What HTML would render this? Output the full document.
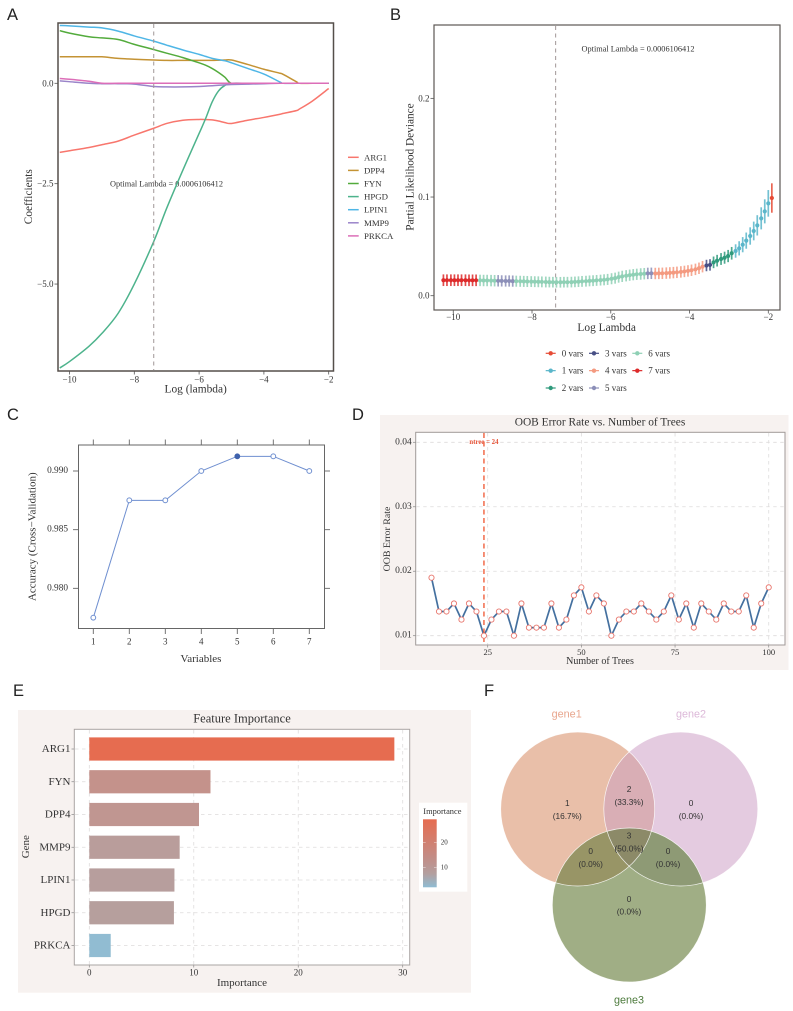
<!DOCTYPE html>
<html>
<head>
<meta charset="utf-8">
<title>Multi-panel gene feature selection figure</title>
<style>
html,body{margin:0;padding:0;background:#fff;}
svg{display:block;}
text{font-family:"Liberation Serif",serif;fill:#333;dominant-baseline:central;}
.letter{font-family:"Liberation Sans",sans-serif;font-size:16.5px;fill:#222;dominant-baseline:auto;}
.sans{font-family:"Liberation Sans",sans-serif;}
</style>
</head>
<body>
<svg id="fig" xmlns="http://www.w3.org/2000/svg" width="793" height="1011" viewBox="0 0 793 1011">
<rect x="0" y="0" width="793" height="1011" fill="#fff"/>

<text class="letter" x="7" y="20">A</text>
<text class="letter" x="390" y="20">B</text>
<text class="letter" x="7" y="420">C</text>
<text class="letter" x="352" y="420">D</text>
<text class="letter" x="13" y="696">E</text>
<text class="letter" x="484" y="696">F</text>

<g id="panelA">
  <rect x="58" y="23" width="275.5" height="348" fill="#fff" stroke="#554f4a" stroke-width="1.5"/>
  <text x="195.7" y="389.5" font-size="11.4" text-anchor="middle">Log (lambda)</text>
  <text x="29" y="196.7" font-size="11.3" text-anchor="middle" transform="rotate(-90 29 196.7)">Coefficients</text>
  <text x="166.5" y="184" font-size="8.3" text-anchor="middle">Optimal Lambda = 0.0006106412</text>
</g>

<g id="panelB">
  <rect x="434" y="25" width="346" height="285" fill="#fff" stroke="#5c5853" stroke-width="1.2"/>
  <text x="606.7" y="328" font-size="11.4" text-anchor="middle">Log Lambda</text>
  <text x="410.7" y="167" font-size="11.3" text-anchor="middle" transform="rotate(-90 410.7 167)">Partial Likelihood Deviance</text>
  <text x="638" y="49" font-size="8.3" text-anchor="middle">Optimal Lambda = 0.0006106412</text>
</g>

<g id="panelC">
  <rect x="78.5" y="445" width="246" height="183.5" fill="#fff" stroke="#666" stroke-width="1"/>
  <text x="201" y="659" font-size="11" text-anchor="middle">Variables</text>
  <text x="32.7" y="536.7" font-size="11" text-anchor="middle" transform="rotate(-90 32.7 536.7)">Accuracy (Cross−Validation)</text>
</g>

<g id="panelD">
  <rect x="380" y="415" width="408.5" height="255" fill="#f7f2f0"/>
  <rect x="415.7" y="432.3" width="369.3" height="212.7" fill="#fff" stroke="#a09a98" stroke-width="1"/>
  <text x="600" y="422.7" font-size="11.4" text-anchor="middle">OOB Error Rate vs. Number of Trees</text>
  <text x="600" y="661.7" font-size="10" text-anchor="middle">Number of Trees</text>
  <text x="387.7" y="539" font-size="9.9" text-anchor="middle" transform="rotate(-90 387.7 539)">OOB Error Rate</text>
</g>

<g id="panelE">
  <rect x="18" y="710" width="453" height="282.7" fill="#f7f2f0"/>
  <rect x="74.3" y="729.3" width="335.4" height="235.7" fill="#fff" stroke="#aaa5a3" stroke-width="1"/>
  <text x="242" y="718.5" font-size="12.5" text-anchor="middle">Feature Importance</text>
  <text x="242" y="983" font-size="11" text-anchor="middle">Importance</text>
  <text x="26" y="846.7" font-size="11" text-anchor="middle" transform="rotate(-90 26 846.7)">Gene</text>
  <rect x="419" y="802.7" width="48.3" height="89" fill="#fff"/>
  <text x="423.3" y="811.3" font-size="8.4">Importance</text>
  <defs>
    <linearGradient id="impGrad" x1="0" y1="0" x2="0" y2="1">
      <stop offset="0" stop-color="#e66c50"/>
      <stop offset="0.6" stop-color="#c08f8a"/>
      <stop offset="0.8" stop-color="#b39f9f"/>
      <stop offset="1" stop-color="#8fbcd3"/>
    </linearGradient>
  </defs>
  <rect x="423" y="819.3" width="13.7" height="68" fill="url(#impGrad)"/>
</g>

<g id="panelF">
  <defs>
    <clipPath id="clipG1"><circle cx="577.7" cy="809" r="77"/></clipPath>
    <clipPath id="clipG2"><circle cx="680.8" cy="809" r="77"/></clipPath>
    <clipPath id="clipG3"><circle cx="629.3" cy="905" r="77"/></clipPath>
  </defs>
  <circle cx="577.7" cy="809" r="77" fill="#e9bfa9"/>
  <circle cx="680.8" cy="809" r="77" fill="#e4cbe0"/>
  <circle cx="629.3" cy="905" r="77" fill="#a0ae85"/>
  <g clip-path="url(#clipG1)"><circle cx="680.8" cy="809" r="77" fill="#d9aeb5"/></g>
  <g clip-path="url(#clipG1)"><circle cx="629.3" cy="905" r="77" fill="#989566"/></g>
  <g clip-path="url(#clipG2)"><circle cx="629.3" cy="905" r="77" fill="#8e9a75"/></g>
  <g clip-path="url(#clipG1)"><g clip-path="url(#clipG2)"><circle cx="629.3" cy="905" r="77" fill="#8c8a68"/></g></g>
  <circle cx="577.7" cy="809" r="77" fill="none" stroke="#fff" stroke-width="0.7" stroke-opacity="0.85"/>
  <circle cx="680.8" cy="809" r="77" fill="none" stroke="#fff" stroke-width="0.7" stroke-opacity="0.85"/>
  <circle cx="629.3" cy="905" r="77" fill="none" stroke="#fff" stroke-width="0.7" stroke-opacity="0.85"/>
  <text class="sans" x="566.7" y="714.5" font-size="10.8" text-anchor="middle" style="fill:#e8a58c">gene1</text>
  <text class="sans" x="691" y="714.5" font-size="10.8" text-anchor="middle" style="fill:#dcb8d8">gene2</text>
  <text class="sans" x="629" y="1000.7" font-size="10.8" text-anchor="middle" style="fill:#4c7a3c">gene3</text>
  <g class="venn-counts" font-size="8.3" text-anchor="middle">
    <text class="sans" x="567.3" y="803">1</text>
    <text class="sans" x="567.3" y="816">(16.7%)</text>
    <text class="sans" x="629" y="789">2</text>
    <text class="sans" x="629" y="802">(33.3%)</text>
    <text class="sans" x="691" y="803">0</text>
    <text class="sans" x="691" y="816">(0.0%)</text>
    <text class="sans" x="629" y="835.3">3</text>
    <text class="sans" x="629" y="848.3">(50.0%)</text>
    <text class="sans" x="590.7" y="851">0</text>
    <text class="sans" x="590.7" y="864">(0.0%)</text>
    <text class="sans" x="668" y="851">0</text>
    <text class="sans" x="668" y="864">(0.0%)</text>
    <text class="sans" x="629" y="899">0</text>
    <text class="sans" x="629" y="911.7">(0.0%)</text>
  </g>
</g>
</svg>

<script>
/* ---------- Panel A data ---------- */
const lassoLambda = [-10.3,-10,-9.4,-9,-8.5,-8,-7.4,-7,-6.5,-6,-5.8,-5.6,-5.4,-5.2,-5,-4.5,-4,-3.5,-3.4,-3,-2.9,-2.5,-2];
const lassoArg1  = [-1.72,-1.68,-1.6,-1.53,-1.44,-1.29,-1.12,-1,-0.92,-0.9,-0.905,-0.91,-0.94,-0.98,-1,-0.92,-0.85,-0.77,-0.75,-0.68,-0.64,-0.44,-0.13];
const lassoDpp4  = [0.66,0.66,0.66,0.66,0.62,0.6,0.58,0.57,0.57,0.57,0.57,0.57,0.575,0.58,0.58,0.47,0.35,0.25,0.22,0.04,0,0,0];
const lassoFyn   = [1.31,1.25,1.16,1.13,1.09,0.97,0.84,0.75,0.64,0.51,0.45,0.37,0.27,0.15,0,0,0,0,0,0,0,0,0];
const lassoHpgd  = [-7.09,-6.93,-6.55,-6.23,-5.73,-5,-3.94,-3.11,-2.16,-1.25,-0.88,-0.47,-0.19,-0.05,0,0,0,0,0,0,0,0,0];
const lassoLpin1 = [1.44,1.43,1.4,1.38,1.3,1.18,1.05,0.95,0.83,0.72,0.67,0.62,0.59,0.56,0.51,0.37,0.23,0.03,0,0,0,0,0];
const lassoMmp9  = [0.06,0.04,0,-0.01,-0.01,-0.02,-0.08,-0.09,-0.09,-0.08,-0.07,-0.06,-0.05,-0.04,-0.03,-0.02,-0.01,0,0,0,0,0,0];
const lassoPrkca = [0.12,0.1,0.05,0,0,0,0,0,0,0,0,0,0,0,0,0,0,0,0,0,0,0,0];
const lassoGenes = ['ARG1','DPP4','FYN','HPGD','LPIN1','MMP9','PRKCA'];
const lassoXTicks = [-10,-8,-6,-4,-2];
const lassoYTicks = [0,-2.5,-5];
const optimalLogLambda = -7.4;

/* ---------- Panel B data ---------- */
const devLambda = [-10.25,-10.16,-10.06,-9.97,-9.88,-9.79,-9.69,-9.60,-9.51,-9.42,-9.32,-9.23,-9.14,-9.04,-8.95,-8.86,-8.77,-8.67,-8.58,-8.49,-8.40,-8.30,-8.21,-8.12,-8.02,-7.93,-7.84,-7.75,-7.65,-7.56,-7.47,-7.38,-7.28,-7.19,-7.10,-7.00,-6.91,-6.82,-6.73,-6.63,-6.54,-6.45,-6.36,-6.26,-6.17,-6.08,-5.98,-5.89,-5.80,-5.71,-5.61,-5.52,-5.43,-5.34,-5.24,-5.15,-5.06,-4.97,-4.87,-4.78,-4.69,-4.59,-4.50,-4.41,-4.32,-4.22,-4.13,-4.04,-3.95,-3.85,-3.76,-3.67,-3.57,-3.48,-3.39,-3.30,-3.20,-3.11,-3.02,-2.93,-2.83,-2.74,-2.65,-2.56,-2.46,-2.37,-2.28,-2.18,-2.09,-2.00,-1.91];
const devMean = [0.0157,0.0157,0.0157,0.0157,0.0157,0.0157,0.0157,0.0156,0.0156,0.0156,0.0155,0.0154,0.0154,0.0153,0.0152,0.0151,0.015,0.0149,0.0149,0.0148,0.0147,0.0146,0.0145,0.0144,0.0143,0.0142,0.0141,0.014,0.0139,0.0138,0.0137,0.0136,0.0136,0.0137,0.0137,0.0138,0.014,0.0142,0.0145,0.0147,0.015,0.0152,0.0155,0.0158,0.0161,0.0165,0.0172,0.0178,0.0188,0.0196,0.0202,0.0208,0.0213,0.0217,0.022,0.0223,0.0226,0.0227,0.0225,0.0226,0.0227,0.0229,0.0231,0.0234,0.0237,0.0241,0.0246,0.0251,0.0258,0.0267,0.0278,0.0294,0.0306,0.0312,0.0338,0.0355,0.0372,0.0385,0.0402,0.043,0.0453,0.048,0.0517,0.0558,0.0605,0.0656,0.0713,0.0784,0.0855,0.0936,0.099];
const devSe = [0.0059,0.0059,0.0059,0.0059,0.0059,0.0059,0.0059,0.0059,0.0059,0.0059,0.0058,0.0058,0.0058,0.0058,0.0058,0.0058,0.0057,0.0057,0.0057,0.0057,0.0056,0.0056,0.0056,0.0056,0.0055,0.0055,0.0055,0.0055,0.0055,0.0054,0.0054,0.0054,0.0054,0.0054,0.0054,0.0054,0.0054,0.0054,0.0055,0.0055,0.0055,0.0055,0.0055,0.0055,0.0056,0.0056,0.0056,0.0056,0.0056,0.0057,0.0057,0.0057,0.0057,0.0057,0.0058,0.0058,0.0058,0.0058,0.0058,0.0058,0.0058,0.0058,0.0058,0.0058,0.0058,0.0058,0.0058,0.0058,0.0058,0.0058,0.0058,0.0058,0.0058,0.0058,0.0059,0.0059,0.006,0.0061,0.0062,0.0064,0.0068,0.0072,0.0077,0.0082,0.0088,0.0095,0.0103,0.0112,0.0122,0.0135,0.0149];
const devVars = [7,7,7,7,7,7,7,7,7,7,6,6,6,6,6,5,5,5,5,5,6,6,6,6,6,6,6,6,6,6,6,6,6,6,6,6,6,6,6,6,6,6,6,6,6,6,6,6,6,6,6,6,6,6,6,6,5,5,4,4,4,4,4,4,4,4,4,4,4,4,4,4,3,3,2,2,2,2,2,2,1,1,1,1,1,1,1,1,1,1,0];
const devXTicks = [-10,-8,-6,-4,-2];
const devYTicks = [0,0.1,0.2];
const devLegendLabels = ['0 vars','1 vars','2 vars','3 vars','4 vars','5 vars','6 vars','7 vars'];

/* ---------- Panel C data ---------- */
const cvVariables = [1,2,3,4,5,6,7];
const cvAccuracy = [0.9775,0.9875,0.9875,0.99,0.99125,0.99125,0.99];
const cvBestVariable = 5;
const cvYTicks = [0.98,0.985,0.99];

/* ---------- Panel D data ---------- */
const oobTrees = [10,12,14,16,18,20,22,24,26,28,30,32,34,36,38,40,42,44,46,48,50,52,54,56,58,60,62,64,66,68,70,72,74,76,78,80,82,84,86,88,90,92,94,96,98,100];
const oobError = [0.019,0.01375,0.01375,0.015,0.0125,0.015,0.01375,0.01,0.0125,0.01375,0.01375,0.01,0.015,0.01125,0.01125,0.01125,0.015,0.01125,0.0125,0.01625,0.0175,0.01375,0.01625,0.015,0.01,0.0125,0.01375,0.01375,0.015,0.01375,0.0125,0.01375,0.01625,0.0125,0.015,0.01125,0.015,0.01375,0.0125,0.015,0.01375,0.01375,0.01625,0.01125,0.015,0.0175];
const oobBestTree = 24;
const oobXTicks = [25,50,75,100];
const oobYTicks = [0.01,0.02,0.03,0.04];

/* ---------- Panel E data ---------- */
const impGenes = ['ARG1','FYN','DPP4','MMP9','LPIN1','HPGD','PRKCA'];
const impValues = [29.2,11.6,10.5,8.65,8.15,8.1,2.05];
const impXTicks = [0,10,20,30];
const impLegendTicks = [10,20];

/* ---------- Helpers ---------- */
const NS = 'http://www.w3.org/2000/svg';
function mk(parent, tag, attrs) {
  const el = document.createElementNS(NS, tag);
  for (const k in attrs) el.setAttribute(k, attrs[k]);
  parent.appendChild(el);
  return el;
}
function label(parent, x, y, s, size, anchor) {
  const el = mk(parent, 'text', {x: x, y: y, 'font-size': size, 'text-anchor': anchor});
  el.textContent = s;
  return el;
}
function fmtMinus(v, d) { return (v < 0 ? '\u2212' : '') + Math.abs(v).toFixed(d); }
function smoothPath(p) {
  let d = 'M' + p[0][0].toFixed(2) + ' ' + p[0][1].toFixed(2);
  for (let i = 0; i < p.length - 1; i++) {
    const a = p[Math.max(i - 1, 0)], b = p[i], c = p[i + 1], e = p[Math.min(i + 2, p.length - 1)];
    const c1x = b[0] + (c[0] - a[0]) / 6, c1y = b[1] + (c[1] - a[1]) / 6;
    const c2x = c[0] - (e[0] - b[0]) / 6, c2y = c[1] - (e[1] - b[1]) / 6;
    d += 'C' + c1x.toFixed(2) + ' ' + c1y.toFixed(2) + ' ' + c2x.toFixed(2) + ' ' + c2y.toFixed(2) + ' ' + c[0].toFixed(2) + ' ' + c[1].toFixed(2);
  }
  return d;
}

/* ---------- Panel A ---------- */
(function () {
  const g = document.getElementById('panelA');
  const x = v => 328.7 + (v + 2) * 32.4;
  const y = v => 83.3 - v * 40.15;
  const seriesValues = [lassoArg1, lassoDpp4, lassoFyn, lassoHpgd, lassoLpin1, lassoMmp9, lassoPrkca];
  const colors = ['#f8766d','#c49334','#53ab3c','#4db38c','#4fb6e6','#9a84c9','#dc6eb8'];

  lassoXTicks.forEach(t => {
    const tick = mk(g, 'line', {x1: x(t), x2: x(t), y1: 371.5, y2: 374.5, stroke: '#555', 'stroke-width': 0.8});
    
    
    const tl = label(g, x(t), 379.5, fmtMinus(t, 0), 9, 'middle');
    
    
  });
  lassoYTicks.forEach(t => {
    const tick = mk(g, 'line', {x1: 54.5, x2: 57.5, y1: y(t), y2: y(t), stroke: '#555', 'stroke-width': 0.8});
    
    
    const tl = label(g, 53.5, y(t), fmtMinus(t, 1), 9, 'end');
    
    
  });

  seriesValues.forEach((vals, i) => {
    const pts = vals.map((v, j) => [x(lassoLambda[j]), y(v)]);
    const line = mk(g, 'path', {d: smoothPath(pts), fill: 'none', stroke: colors[i], 'stroke-width': 1.5, 'stroke-linejoin': 'round'});
    
    
  });

  const vline = mk(g, 'line', {x1: x(optimalLogLambda), x2: x(optimalLogLambda), y1: 24, y2: 370, stroke: '#a09696', 'stroke-width': 1, 'stroke-dasharray': '4 3.5'});
  
  

  lassoGenes.forEach((name, i) => {
    const yy = 157.3 + i * 13.1;
    const key = mk(g, 'line', {x1: 348, x2: 358.7, y1: yy, y2: yy, stroke: colors[i], 'stroke-width': 1.5});
    
    
    const t = label(g, 364, yy, name, 8.8, 'start');
    
    
  });
})();

/* ---------- Panel B ---------- */
(function () {
  const g = document.getElementById('panelB');
  const x = v => 768.3 + (v + 2) * 39.38;
  const y = v => 295.7 - v * 986.7;
  const palette = ['#E64B35','#5ab6ca','#2f9a7c','#474f85','#F49A80','#8c8fb8','#8fd0b5','#dd2a2a'];

  devXTicks.forEach(t => {
    const tick = mk(g, 'line', {x1: x(t), x2: x(t), y1: 310.5, y2: 313.5, stroke: '#555', 'stroke-width': 0.8});
    
    
    const tl = label(g, x(t), 317, fmtMinus(t, 0), 9, 'middle');
    
    
  });
  devYTicks.forEach(t => {
    const tick = mk(g, 'line', {x1: 430.5, x2: 433.5, y1: y(t), y2: y(t), stroke: '#555', 'stroke-width': 0.8});
    
    
    const tl = label(g, 429.5, y(t), t.toFixed(1), 9, 'end');
    
    
  });

  const vline = mk(g, 'line', {x1: x(optimalLogLambda), x2: x(optimalLogLambda), y1: 26, y2: 309, stroke: '#a09696', 'stroke-width': 1, 'stroke-dasharray': '4 3.5'});
  
  

  devLambda.forEach((lam, i) => {
    const c = palette[devVars[i]];
    const bar = mk(g, 'line', {x1: x(lam), x2: x(lam), y1: y(devMean[i] + devSe[i]), y2: y(devMean[i] - devSe[i]), stroke: c, 'stroke-width': 1.7, 'stroke-opacity': 0.85});
    
    
    const dot = mk(g, 'circle', {cx: x(lam), cy: y(devMean[i]), r: 2.1, fill: c});
    
    
  });

  devLegendLabels.forEach((name, i) => {
    const col = Math.floor(i / 3), row = i % 3;
    const x0 = 545.7 + col * 43.3, yy = 353.3 + row * 17.35;
    const key = mk(g, 'line', {x1: x0, x2: x0 + 10, y1: yy, y2: yy, stroke: palette[i], 'stroke-width': 1.2});
    
    
    const dot = mk(g, 'circle', {cx: x0 + 5, cy: yy, r: 2.2, fill: palette[i]});
    
    
    const t = label(g, x0 + 16, yy, name, 9, 'start');
    
    
  });
})();

/* ---------- Panel C ---------- */
(function () {
  const g = document.getElementById('panelC');
  const x = v => 93.3 + (v - 1) * 36;
  const y = v => 471 + (0.99 - v) * 11734;
  const stroke = '#6f8fd0';

  cvVariables.forEach(t => {
    const top = mk(g, 'line', {x1: x(t), x2: x(t), y1: 439.5, y2: 445, stroke: '#666', 'stroke-width': 0.9});
    
    
    const bot = mk(g, 'line', {x1: x(t), x2: x(t), y1: 628.5, y2: 634, stroke: '#666', 'stroke-width': 0.9});
    
    
    const tl = label(g, x(t), 641.7, String(t), 9, 'middle');
    
    
  });
  cvYTicks.forEach(t => {
    const l = mk(g, 'line', {x1: 73, x2: 78.5, y1: y(t), y2: y(t), stroke: '#666', 'stroke-width': 0.9});
    
    
    const r = mk(g, 'line', {x1: 324.5, x2: 330, y1: y(t), y2: y(t), stroke: '#666', 'stroke-width': 0.9});
    
    
    const tl = label(g, 68, y(t), t.toFixed(3), 9.3, 'end');
    
    
  });

  const pts = cvVariables.map((v, i) => x(v).toFixed(2) + ',' + y(cvAccuracy[i]).toFixed(2)).join(' ');
  const line = mk(g, 'polyline', {points: pts, fill: 'none', stroke: stroke, 'stroke-width': 1});
  
  

  cvVariables.forEach((v, i) => {
    const best = v === cvBestVariable;
    const dot = mk(g, 'circle', {cx: x(v), cy: y(cvAccuracy[i]), r: 2.4, fill: best ? '#3f62ad' : '#fff', stroke: best ? '#3f62ad' : stroke, 'stroke-width': 1});
    
    
  });
})();

/* ---------- Panel D ---------- */
(function () {
  const g = document.getElementById('panelD');
  const x = v => 487.7 + (v - 25) * 3.747;
  const y = v => 635.7 - (v - 0.01) * 6447;
  const grid = '#dedcdc';

  oobYTicks.forEach(t => {
    const gl = mk(g, 'line', {x1: 416.2, x2: 784.5, y1: y(t), y2: y(t), stroke: grid, 'stroke-width': 0.8, 'stroke-dasharray': '3.5 3.5'});
    
    
    const tick = mk(g, 'line', {x1: 413, x2: 415.5, y1: y(t), y2: y(t), stroke: '#888', 'stroke-width': 0.7});
    
    
    const tl = label(g, 411.7, y(t), t.toFixed(2), 9.5, 'end');
    
    
  });
  oobXTicks.forEach(t => {
    const gl = mk(g, 'line', {x1: x(t), x2: x(t), y1: 433, y2: 644.5, stroke: grid, 'stroke-width': 0.8, 'stroke-dasharray': '3.5 3.5'});
    
    
    const tick = mk(g, 'line', {x1: x(t), x2: x(t), y1: 645.3, y2: 647.5, stroke: '#888', 'stroke-width': 0.7});
    
    
    const tl = label(g, x(t), 651.8, String(t), 8.5, 'middle');
    
    
  });

  const pts = oobTrees.map((v, i) => x(v).toFixed(2) + ',' + y(oobError[i]).toFixed(2)).join(' ');
  const line = mk(g, 'polyline', {points: pts, fill: 'none', stroke: '#44709f', 'stroke-width': 1.7, 'stroke-linejoin': 'round'});
  
  

  const best = mk(g, 'line', {x1: x(oobBestTree), x2: x(oobBestTree), y1: 433, y2: 644.5, stroke: '#f0532e', 'stroke-width': 1.3, 'stroke-dasharray': '5 3.5'});
  
  

  const bestLabel = label(g, x(oobBestTree), 442.7, 'ntree = ' + oobBestTree, 6.8, 'middle');
  bestLabel.setAttribute('style', 'fill:#e8553a;font-weight:bold');
  
  

  oobTrees.forEach((v, i) => {
    const dot = mk(g, 'circle', {cx: x(v), cy: y(oobError[i]), r: 2.6, fill: '#fff', stroke: '#e8766d', 'stroke-width': 0.9});
    
    
  });
})();

/* ---------- Panel E ---------- */
(function () {
  const g = document.getElementById('panelE');
  const x = v => 89.3 + v * 10.447;
  const band = i => 749 + i * 32.75;
  const grid = '#dedcdc';
  function fill(v) {
    const stops = [[2, [145,188,210]], [8, [182,159,158]], [12, [198,144,137]], [29.2, [230,108,80]]];
    let a = stops[0], b = stops[1];
    for (let i = 0; i < stops.length - 1; i++) {
      if (v >= stops[i][0]) { a = stops[i]; b = stops[i + 1]; }
    }
    const t = Math.max(0, Math.min(1, (v - a[0]) / (b[0] - a[0])));
    const c = a[1].map((p, k) => Math.round(p + (b[1][k] - p) * t));
    return 'rgb(' + c.join(',') + ')';
  }

  impXTicks.forEach(t => {
    const gl = mk(g, 'line', {x1: x(t), x2: x(t), y1: 730, y2: 964.5, stroke: grid, 'stroke-width': 0.8, 'stroke-dasharray': '3.5 3.5'});
    
    
    const tick = mk(g, 'line', {x1: x(t), x2: x(t), y1: 965.3, y2: 967.5, stroke: '#888', 'stroke-width': 0.7});
    
    
    const tl = label(g, x(t), 972.5, String(t), 9, 'middle');
    
    
  });

  impGenes.forEach((name, i) => {
    const gl = mk(g, 'line', {x1: 75, x2: 409, y1: band(i), y2: band(i), stroke: grid, 'stroke-width': 0.8, 'stroke-dasharray': '3.5 3.5'});
    
    
    const tick = mk(g, 'line', {x1: 71.5, x2: 74, y1: band(i), y2: band(i), stroke: '#888', 'stroke-width': 0.7});
    
    
    const tl = label(g, 70.5, band(i), name, 11, 'end');
    
    
    const bar = mk(g, 'rect', {x: x(0), y: band(i) - 11.6, width: x(impValues[i]) - x(0), height: 23.2, fill: fill(impValues[i])});
    
    
  });

  const legendY = v => 867.3 - (v - 10) * 2.5;
  impLegendTicks.forEach(t => {
    const a = mk(g, 'line', {x1: 423, x2: 425.7, y1: legendY(t), y2: legendY(t), stroke: '#fff', 'stroke-width': 0.5, 'stroke-opacity': 0.8});
    
    
    const b = mk(g, 'line', {x1: 434, x2: 436.7, y1: legendY(t), y2: legendY(t), stroke: '#fff', 'stroke-width': 0.5, 'stroke-opacity': 0.8});
    
    
    const tl = label(g, 440.7, legendY(t), String(t), 7, 'start');
    
    
  });
})();
</script>
</body>
</html>
